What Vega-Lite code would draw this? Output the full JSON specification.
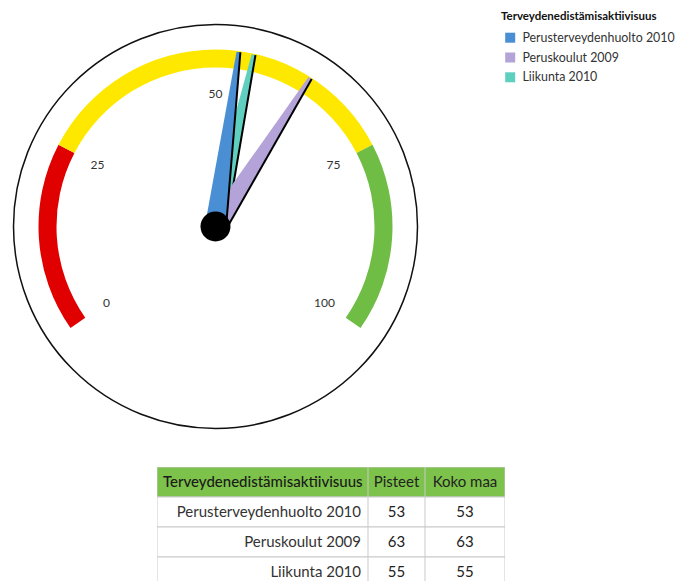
{
  "$schema": "https://vega.github.io/schema/vega-lite/v6.json",
  "padding": 0,
  "background": "white",
  "spacing": 14,
  "config": {
    "view": {"stroke": null},
    "font": "Lato"
  },
  "datasets": {
    "needles": [
      {"name": "Liikunta 2010", "score": 55, "national": 55},
      {"name": "Peruskoulut 2009", "score": 63, "national": 63},
      {"name": "Perusterveydenhuolto 2010", "score": 53, "national": 53}
    ],
    "zones": [
      {"zone": "low", "start": 0, "end": 25},
      {"zone": "mid", "start": 25, "end": 75},
      {"zone": "high", "start": 75, "end": 100}
    ],
    "ticks": [
      {"value": 0}, {"value": 25}, {"value": 50}, {"value": 75}, {"value": 100}
    ],
    "cells": [
      {"row": 0, "col": "a", "text": "Terveydenedistämisaktiivisuus"},
      {"row": 0, "col": "b", "text": "Pisteet"},
      {"row": 0, "col": "c", "text": "Koko maa"},
      {"row": 1, "col": "a", "text": "Perusterveydenhuolto 2010"},
      {"row": 1, "col": "b", "text": "53"},
      {"row": 1, "col": "c", "text": "53"},
      {"row": 2, "col": "a", "text": "Peruskoulut 2009"},
      {"row": 2, "col": "b", "text": "63"},
      {"row": 2, "col": "c", "text": "63"},
      {"row": 3, "col": "a", "text": "Liikunta 2010"},
      {"row": 3, "col": "b", "text": "55"},
      {"row": 3, "col": "c", "text": "55"}
    ]
  },
  "vconcat": [
    {
      "width": 431,
      "height": 453,
      "layer": [
        {
          "data": {"values": [{"element": "rim"}]},
          "mark": {"type": "point", "shape": "circle", "size": 163216, "filled": false, "stroke": "#111111", "strokeWidth": 1.5, "opacity": 1},
          "encoding": {}
        },
        {
          "data": {"name": "zones"},
          "mark": {"type": "arc", "radius": 177, "radius2": 159},
          "encoding": {
            "theta": {"field": "start", "type": "quantitative", "stack": null, "scale": {"domain": [0, 100], "range": [-2.1817, 2.1817]}},
            "theta2": {"field": "end"},
            "fill": {"field": "zone", "type": "nominal", "legend": null, "scale": {"domain": ["low", "mid", "high"], "range": ["#e00000", "#ffe800", "#6fbd44"]}}
          }
        },
        {
          "data": {"name": "ticks"},
          "mark": {"type": "text", "radius": 133, "fontSize": 12, "color": "#333333"},
          "encoding": {
            "theta": {"field": "value", "type": "quantitative", "stack": null},
            "text": {"field": "value", "type": "quantitative"}
          }
        },
        {
          "data": {"name": "needles"},
          "layer": [
            {
              "transform": [{"filter": {"field": "name", "equal": "Liikunta 2010"}}],
              "layer": [
                {
                  "mark": {"type": "point", "shape": "M -0.06 0 L -0.011 -1 L 0.011 -1 L 0.06 0 Z", "size": 123904, "filled": true, "opacity": 1, "strokeWidth": 0},
                  "encoding": {
                    "angle": {"field": "score", "type": "quantitative", "scale": {"domain": [0, 100], "range": [-125, 125]}},
                    "color": {
                      "field": "name", "type": "nominal",
                      "scale": {"domain": ["Perusterveydenhuolto 2010", "Peruskoulut 2009", "Liikunta 2010"], "range": ["#4a8ed4", "#b3a3d8", "#5fcfc0"]},
                      "legend": {"orient": "none", "legendX": 501, "legendY": 11, "title": "Terveydenedistämisaktiivisuus", "titleFontSize": 11.5, "titleFontWeight": "bold", "titleColor": "#111111", "labelFontSize": 12.4, "labelColor": "#333333", "symbolType": "square", "symbolSize": 100, "symbolStrokeWidth": 0, "symbolOffset": 3, "labelOffset": 6, "rowPadding": 6.8, "titlePadding": 9, "labelLimit": 300}
                    }
                  }
                },
                {
                  "mark": {"type": "point", "shape": "M 0.06 0 L 0.011 -1", "size": 123904, "filled": false, "stroke": "#000000", "strokeWidth": 2, "opacity": 1},
                  "encoding": {"angle": {"field": "score", "type": "quantitative"}}
                }
              ]
            },
            {
              "transform": [{"filter": {"field": "name", "equal": "Peruskoulut 2009"}}],
              "layer": [
                {
                  "mark": {"type": "point", "shape": "M -0.06 0 L -0.011 -1 L 0.011 -1 L 0.06 0 Z", "size": 123904, "filled": true, "opacity": 1, "strokeWidth": 0},
                  "encoding": {
                    "angle": {"field": "score", "type": "quantitative"},
                    "color": {"field": "name", "type": "nominal"}
                  }
                },
                {
                  "mark": {"type": "point", "shape": "M 0.06 0 L 0.011 -1", "size": 123904, "filled": false, "stroke": "#000000", "strokeWidth": 2, "opacity": 1},
                  "encoding": {"angle": {"field": "score", "type": "quantitative"}}
                }
              ]
            },
            {
              "transform": [{"filter": {"field": "name", "equal": "Perusterveydenhuolto 2010"}}],
              "layer": [
                {
                  "mark": {"type": "point", "shape": "M -0.06 0 L -0.011 -1 L 0.011 -1 L 0.06 0 Z", "size": 123904, "filled": true, "opacity": 1, "strokeWidth": 0},
                  "encoding": {
                    "angle": {"field": "score", "type": "quantitative"},
                    "color": {"field": "name", "type": "nominal"}
                  }
                },
                {
                  "mark": {"type": "point", "shape": "M 0.06 0 L 0.011 -1", "size": 123904, "filled": false, "stroke": "#000000", "strokeWidth": 2, "opacity": 1},
                  "encoding": {"angle": {"field": "score", "type": "quantitative"}}
                }
              ]
            }
          ]
        },
        {
          "data": {"values": [{"element": "hub"}]},
          "mark": {"type": "point", "shape": "circle", "size": 900, "filled": true, "color": "#000000", "opacity": 1},
          "encoding": {}
        }
      ]
    },
    {
      "spacing": 0,
      "hconcat": [
        {
          "width": 157,
          "height": 114,
          "data": {"values": []},
          "mark": {"type": "text"},
          "encoding": {}
        },
        {
          "width": 211,
          "height": 114,
          "data": {"name": "cells"},
          "transform": [{"filter": {"field": "col", "equal": "a"}}],
          "encoding": {
            "y": {"field": "row", "type": "ordinal", "axis": null, "scale": {"range": [0, 120], "paddingInner": 0, "paddingOuter": 0}}
          },
          "layer": [
            {
              "mark": {"type": "rect", "stroke": "#c9c9c9", "strokeWidth": 1, "clip": true},
              "encoding": {"fill": {"condition": {"test": "datum.row === 0", "value": "#7dc24a"}, "value": "#ffffff"}}
            },
            {
              "transform": [{"filter": "datum.row === 0"}],
              "mark": {"type": "text", "align": "left", "dx": -99.5, "fontSize": 15, "fontWeight": 500, "color": "#1a1a1a"},
              "encoding": {"text": {"field": "text"}}
            },
            {
              "transform": [{"filter": "datum.row > 0"}],
              "mark": {"type": "text", "align": "right", "dx": 98.5, "fontSize": 15, "color": "#333333"},
              "encoding": {"text": {"field": "text"}}
            }
          ]
        },
        {
          "width": 57,
          "height": 114,
          "data": {"name": "cells"},
          "transform": [{"filter": {"field": "col", "equal": "b"}}],
          "encoding": {
            "y": {"field": "row", "type": "ordinal", "axis": null, "scale": {"range": [0, 120], "paddingInner": 0, "paddingOuter": 0}}
          },
          "layer": [
            {
              "mark": {"type": "rect", "stroke": "#c9c9c9", "strokeWidth": 1, "clip": true},
              "encoding": {"fill": {"condition": {"test": "datum.row === 0", "value": "#7dc24a"}, "value": "#ffffff"}}
            },
            {
              "mark": {"type": "text", "fontSize": 15, "color": "#222222"},
              "encoding": {"text": {"field": "text"}}
            }
          ]
        },
        {
          "width": 80,
          "height": 114,
          "data": {"name": "cells"},
          "transform": [{"filter": {"field": "col", "equal": "c"}}],
          "encoding": {
            "y": {"field": "row", "type": "ordinal", "axis": null, "scale": {"range": [0, 120], "paddingInner": 0, "paddingOuter": 0}}
          },
          "layer": [
            {
              "mark": {"type": "rect", "stroke": "#c9c9c9", "strokeWidth": 1, "clip": true},
              "encoding": {"fill": {"condition": {"test": "datum.row === 0", "value": "#7dc24a"}, "value": "#ffffff"}}
            },
            {
              "mark": {"type": "text", "fontSize": 15, "color": "#222222"},
              "encoding": {"text": {"field": "text"}}
            }
          ]
        }
      ]
    }
  ]
}
